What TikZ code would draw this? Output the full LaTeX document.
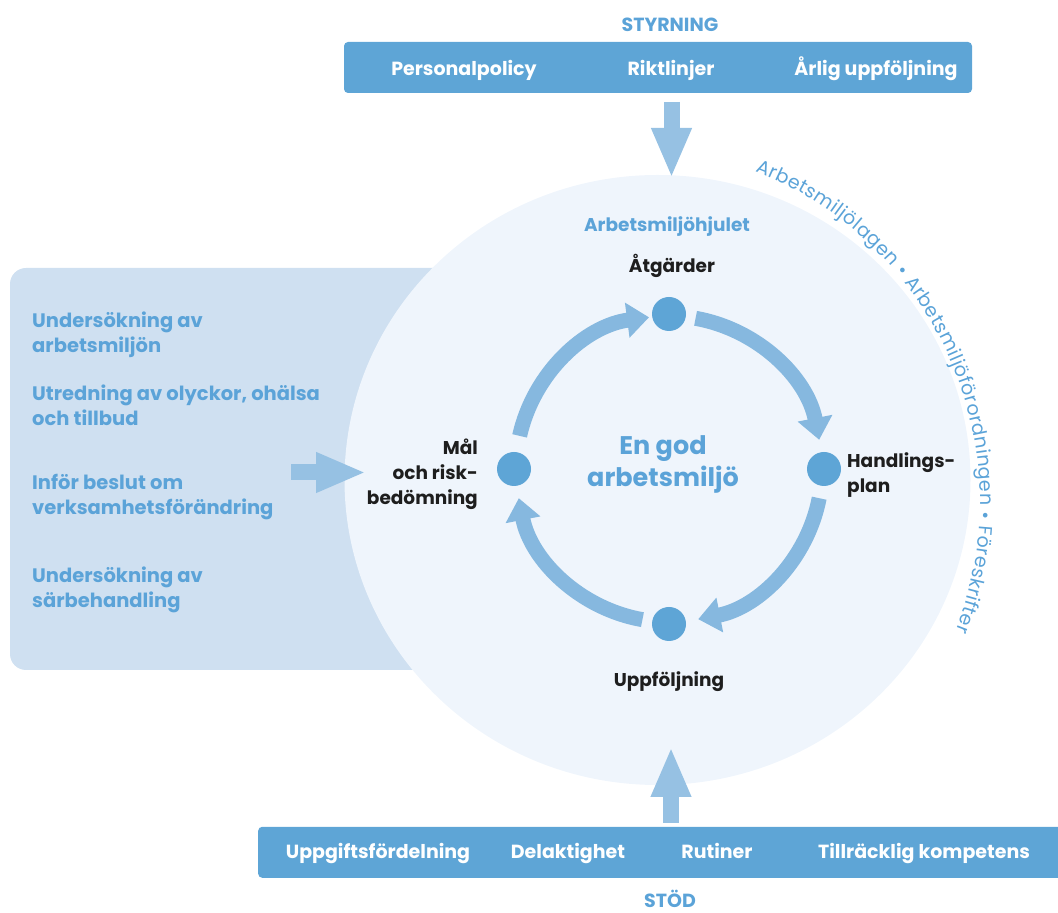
\documentclass[tikz,border=0pt]{standalone}
\usepackage{fontspec}
\setmainfont{Poppins}
\usetikzlibrary{arrows.meta,decorations.text}
\definecolor{barblue}{RGB}{94,165,214}
\definecolor{txtblue}{RGB}{91,163,216}
\definecolor{arrowblue}{RGB}{150,193,227}
\definecolor{cycblue}{RGB}{134,184,223}
\definecolor{dotblue}{RGB}{94,165,214}
\definecolor{wheelfill}{RGB}{239,245,252}
\definecolor{panelfill}{RGB}{207,224,241}
\definecolor{lblblack}{RGB}{30,30,30}
\tikzset{
  barbox/.style={fill=barblue, rounded corners=4pt, inner sep=0pt},
  bartext/.style={text=white, font=\bfseries\fontsize{19}{22}\selectfont, inner sep=0pt, anchor=base},
  headtext/.style={text=txtblue, font=\bfseries\fontsize{19}{22}\selectfont, inner sep=0pt, anchor=base},
  sidetext/.style={text=txtblue, font=\bfseries\fontsize{19.5}{25}\selectfont, inner sep=0pt, anchor=base west, align=left},
  lbl/.style={text=lblblack, font=\bfseries\fontsize{18.5}{25}\selectfont, inner sep=0pt},
  centertext/.style={text=txtblue, font=\bfseries\fontsize{25.5}{32}\selectfont, inner sep=0pt, anchor=base, align=center},
  dot/.style={circle, fill=dotblue, minimum size=34pt, inner sep=0pt},
  cyc/.style={draw=cycblue, line width=15pt, -{Triangle[width=34pt,length=22pt]}},
  bigarrow/.style={draw=arrowblue, line width=16pt, -{Triangle[width=37pt,length=50pt]}},
}
\begin{document}
\begin{tikzpicture}[x=1pt,y=1pt]
\useasboundingbox (0,0) rectangle (1058,913);
% side panel and wheel
\fill[panelfill, rounded corners=16pt] (10,243) rectangle (660,645);
\fill[wheelfill] (657.5,433) ellipse [x radius=313, y radius=305];

% top bar
\node[headtext] (styr) at (670,881) {STYRNING};
\node[barbox, minimum width=628pt, minimum height=51pt] (topbar) at (658,845.5) {};
\node[bartext] (pp) at (464,837) {Personalpolicy};
\node[bartext] (rl) at (671,837) {Riktlinjer};
\node[bartext] (au) at (876,837) {Årlig uppföljning};

% bottom bar
\node[barbox, minimum width=808pt, minimum height=51pt, anchor=south west] (botbar) at (258,35) {};
\node[bartext] (uf) at (378,54) {Uppgiftsfördelning};
\node[bartext] (dl) at (568,54) {Delaktighet};
\node[bartext] (ru) at (717,54) {Rutiner};
\node[bartext] (tk) at (924,54) {Tillräcklig kompetens};
\node[headtext] (stod) at (670,5) {STÖD};

% big arrows
\coordinate (dstart) at (671.5,811);
\coordinate (dtip) at (671.5,735);
\draw[bigarrow] (dstart) -- (dtip);
\coordinate (ustart) at (671,90);
\coordinate (utip) at (671,166);
\draw[bigarrow] (ustart) -- (utip);
\coordinate (lstart) at (291,440.5);
\coordinate (ltip) at (366,440.5);
\draw[bigarrow] (lstart) -- (ltip);

% side texts (anchored at the baseline of the last line)
\node[sidetext] (s1) at (32,560) {Undersökning av\\arbetsmiljön};
\node[sidetext] (s2) at (32,487) {Utredning av olyckor, ohälsa\\och tillbud};
\node[sidetext] (s3) at (32,398) {Inför beslut om\\verksamhetsförändring};
\node[sidetext] (s4) at (32,305) {Undersökning av\\särbehandling};

% wheel
\coordinate (w) at (669,444);
\node[dot] (dtop) at ([shift={(90:155)}]w) {};
\node[dot] (dright) at ([shift={(0:155)}]w) {};
\node[dot] (dbot) at ([shift={(-90:155)}]w) {};
\node[dot] (dleft) at ([shift={(180:155)}]w) {};
\draw[cyc] ([shift={(167.5:153)}]w) arc[start angle=167.5, end angle=97.5, radius=153];
\draw[cyc] ([shift={(80:153)}]w) arc[start angle=80, end angle=11, radius=153];
\draw[cyc] ([shift={(-11:153)}]w) arc[start angle=-11, end angle=-79, radius=153];
\draw[cyc] ([shift={(-100:153)}]w) arc[start angle=-100, end angle=-169, radius=153];

% labels
\node[headtext, font=\bfseries\fontsize{18.5}{22}\selectfont] (hjul) at (667,681) {Arbetsmiljöhjulet};
\node[lbl, anchor=base] (atg) at (672,640) {Åtgärder};
\node[lbl, anchor=base west, align=left] (hp) at (847,420) {Handlings-\\plan};
\node[lbl, anchor=base east, align=right] (mal) at (478,408) {Mål\\och risk-\\bedömning};
\node[lbl, anchor=base] (upp) at (669,226) {Uppföljning};
\node[centertext] (god) at (663,426) {En god\\arbetsmiljö};

% curved text
\coordinate (tc) at (625,411.5);
\path[decorate, decoration={text along path, text align={fit to path},
  text={|\color{txtblue}\fontsize{19}{19}\selectfont|Arbetsmiljölagen • Arbetsmiljöförordningen • Föreskrifter}}]
  ([shift={(68.5:355)}]tc) arc[start angle=68.5, end angle=-21.3, radius=355];
\end{tikzpicture}
\end{document}
